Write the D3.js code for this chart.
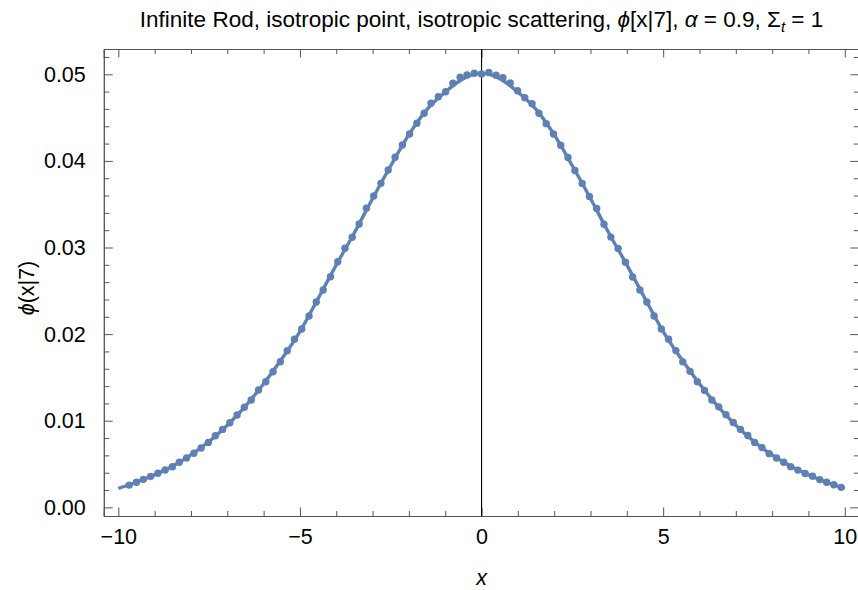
<!DOCTYPE html>
<html>
<head>
<meta charset="utf-8">
<script src="https://cdn.jsdelivr.net/npm/d3@7"></script>
<style>
  body { margin: 0; background: #fff; }
  svg { font-family: "Liberation Sans", Arial, sans-serif; }
</style>
</head>
<body>
<div id="chart"></div>
<script>
// Smooth curve (solid line)
var curveX = [-10, -9.5, -9, -8.5, -8, -7.5, -7, -6.5, -6, -5.5, -5, -4.5, -4, -3.5, -3, -2.5, -2, -1.5, -1, -0.5,
  0, 0.5, 1, 1.5, 2, 2.5, 3, 3.5, 4, 4.5, 5, 5.5, 6, 6.5, 7, 7.5, 8, 8.5, 9, 9.5, 10];
var curveY = [0.00219, 0.00290, 0.00377, 0.00477, 0.00605, 0.00760, 0.00948, 0.01168, 0.01426, 0.01715,
  0.02030, 0.02410, 0.02800, 0.03170, 0.03566, 0.03944, 0.04303, 0.04595, 0.04795, 0.04950,
  0.05010,
  0.04950, 0.04795, 0.04595, 0.04303, 0.03944, 0.03566, 0.03170, 0.02800, 0.02410, 0.02030,
  0.01715, 0.01426, 0.01168, 0.00948, 0.00760, 0.00605, 0.00477, 0.00377, 0.00290, 0.00219];

// Sampled points (dots)
var pointX = [-9.70, -9.50, -9.31, -9.11, -8.91, -8.71, -8.51, -8.32, -8.12, -7.92,
  -7.72, -7.52, -7.33, -7.13, -6.93, -6.73, -6.53, -6.34, -6.14, -5.94,
  -5.74, -5.54, -5.35, -5.15, -4.95, -4.75, -4.55, -4.36, -4.16, -3.96,
  -3.76, -3.56, -3.37, -3.17, -2.97, -2.77, -2.57, -2.38, -2.18, -1.98,
  -1.78, -1.58, -1.39, -1.19, -0.99, -0.79, -0.59, -0.40, -0.20, 0,
  0.20, 0.40, 0.59, 0.79, 0.99, 1.19, 1.39, 1.58, 1.78, 1.98,
  2.18, 2.38, 2.57, 2.77, 2.97, 3.17, 3.37, 3.56, 3.76, 3.96,
  4.16, 4.36, 4.55, 4.75, 4.95, 5.15, 5.35, 5.54, 5.74, 5.94,
  6.14, 6.34, 6.53, 6.73, 6.93, 7.13, 7.33, 7.52, 7.72, 7.92,
  8.12, 8.32, 8.51, 8.71, 8.91, 9.11, 9.31, 9.50, 9.70, 9.90];
var pointY = [0.00257, 0.00289, 0.00323, 0.00358, 0.00393, 0.00431, 0.00469, 0.00520, 0.00569, 0.00624,
  0.00685, 0.00750, 0.00827, 0.00900, 0.00977, 0.01066, 0.01155, 0.01239, 0.01354, 0.01450,
  0.01566, 0.01681, 0.01808, 0.01940, 0.02059, 0.02209, 0.02370, 0.02509, 0.02663, 0.02836,
  0.02991, 0.03118, 0.03271, 0.03453, 0.03595, 0.03741, 0.03895, 0.04042, 0.04184, 0.04311,
  0.04434, 0.04550, 0.04665, 0.04741, 0.04799, 0.04896, 0.04965, 0.04992, 0.05012, 0.05004,
  0.05020, 0.04990, 0.04960, 0.04900, 0.04810, 0.04730, 0.04660, 0.04550, 0.04430, 0.04310,
  0.04180, 0.04040, 0.03890, 0.03740, 0.03590, 0.03450, 0.03270, 0.03120, 0.02990, 0.02830,
  0.02660, 0.02510, 0.02370, 0.02210, 0.02060, 0.01940, 0.01810, 0.01680, 0.01570, 0.01450,
  0.01350, 0.01240, 0.01160, 0.01070, 0.00980, 0.00900, 0.00830, 0.00750, 0.00690, 0.00620,
  0.00570, 0.00520, 0.00470, 0.00430, 0.00390, 0.00360, 0.00320, 0.00290, 0.00260, 0.00231];

// Tick values
var xMajor = [-10, -5, 0, 5, 10];
var xMinor = [-9, -8, -7, -6, -4, -3, -2, -1, 1, 2, 3, 4, 6, 7, 8, 9];
var yMajor = [0, 0.01, 0.02, 0.03, 0.04, 0.05];
var yMinor = [0.002, 0.004, 0.006, 0.008, 0.012, 0.014, 0.016, 0.018, 0.022, 0.024, 0.026, 0.028,
  0.032, 0.034, 0.036, 0.038, 0.042, 0.044, 0.046, 0.048, 0.052];

var width = 858;
var height = 590;

// plot box
var plotLeft = 103.8;
var plotRight = 859.3;
var plotTop = 49;
var plotBottom = 516;

var blue = "#5e81b5";
var frameColor = "#555";

var svg = d3.select("#chart")
  .append("svg")
  .attr("width", width)
  .attr("height", height);

var xScale = d3.scaleLinear().domain([-10.4, 10.4]).range([plotLeft, plotRight]);
var yScale = d3.scaleLinear().domain([-0.001, 0.05292]).range([plotBottom, plotTop]);

// frame axes (ticks inward, labels only bottom/left)
function fmtX(d) { return d < 0 ? "\u2212" + Math.abs(d) : String(d); }

var bottomAxis = d3.axisBottom(xScale).tickValues(xMajor).tickSize(-8.5).tickPadding(13).tickFormat(fmtX);
var bottomMinor = d3.axisBottom(xScale).tickValues(xMinor).tickSize(-5).tickFormat("");
var topAxis = d3.axisTop(xScale).tickValues(xMajor).tickSize(-8.5).tickFormat("");
var topMinor = d3.axisTop(xScale).tickValues(xMinor).tickSize(-5).tickFormat("");
var leftAxis = d3.axisLeft(yScale).tickValues(yMajor).tickSize(-9).tickPadding(18).tickFormat(d3.format(".2f"));
var leftMinor = d3.axisLeft(yScale).tickValues(yMinor).tickSize(-5.5).tickFormat("");
var rightAxis = d3.axisRight(yScale).tickValues(yMajor).tickSize(-9).tickFormat("");
var rightMinor = d3.axisRight(yScale).tickValues(yMinor).tickSize(-5.5).tickFormat("");

function drawAxis(ax, tx, ty) {
  var g = svg.append("g")
    .attr("transform", "translate(" + tx + "," + ty + ")")
    .call(ax);
  g.select(".domain").attr("stroke", frameColor).attr("stroke-width", 1);
  g.selectAll(".tick line").attr("stroke", frameColor).attr("stroke-width", 1);
  g.selectAll(".tick text")
    .attr("fill", "#000")
    .attr("font-size", "21.5px")
    .attr("font-family", "Liberation Sans, Arial, sans-serif");
  return g;
}

drawAxis(bottomMinor, 0, plotBottom);
drawAxis(bottomAxis, 0, plotBottom);
drawAxis(topMinor, 0, plotTop);
drawAxis(topAxis, 0, plotTop);
drawAxis(leftMinor, plotLeft, 0);
drawAxis(leftAxis, plotLeft, 0);
drawAxis(rightMinor, plotRight, 0);
drawAxis(rightAxis, plotRight, 0);

// vertical axis at x = 0
svg.append("line")
  .attr("x1", xScale(0)).attr("x2", xScale(0))
  .attr("y1", plotTop).attr("y2", plotBottom)
  .attr("stroke", "#000")
  .attr("stroke-width", 1.1);

// curve
var lineData = curveX.map(function(d, i) { return [d, curveY[i]]; });
var line = d3.line()
  .x(function(d) { return xScale(d[0]); })
  .y(function(d) { return yScale(d[1]); })
  .curve(d3.curveMonotoneX);

svg.append("path")
  .datum(lineData)
  .attr("d", line)
  .attr("fill", "none")
  .attr("stroke", blue)
  .attr("stroke-width", 3.4);

// dots
var pts = pointX.map(function(d, i) { return [d, pointY[i]]; });
svg.selectAll("circle.pt")
  .data(pts)
  .enter()
  .append("circle")
  .attr("class", "pt")
  .attr("cx", function(d) { return xScale(d[0]); })
  .attr("cy", function(d) { return yScale(d[1]); })
  .attr("r", 3.7)
  .attr("fill", blue);

// title
var title = svg.append("text")
  .attr("x", (plotLeft + plotRight) / 2)
  .attr("y", 27)
  .attr("text-anchor", "middle")
  .attr("font-size", "22.5px")
  .attr("fill", "#000");
title.append("tspan").text("Infinite Rod, isotropic point, isotropic scattering, ");
title.append("tspan").attr("font-style", "italic").text("\u03d5");
title.append("tspan").text("[x|7], ");
title.append("tspan").attr("font-style", "italic").text("\u03b1");
title.append("tspan").text(" = 0.9, \u03a3");
title.append("tspan").attr("font-style", "italic").attr("font-size", "15px").attr("dy", 5).text("t");
title.append("tspan").attr("dy", -5).text(" = 1");

// x label
svg.append("text")
  .attr("x", xScale(0))
  .attr("y", 585)
  .attr("text-anchor", "middle")
  .attr("font-size", "21.5px")
  .attr("font-style", "italic")
  .text("x");

// y label
var yl = svg.append("text")
  .attr("transform", "translate(34," + 288 + ") rotate(-90)")
  .attr("text-anchor", "middle")
  .attr("font-size", "21.5px");
yl.append("tspan").attr("font-style", "italic").text("\u03d5");
yl.append("tspan").text("(x|7)");
</script>
</body>
</html>
